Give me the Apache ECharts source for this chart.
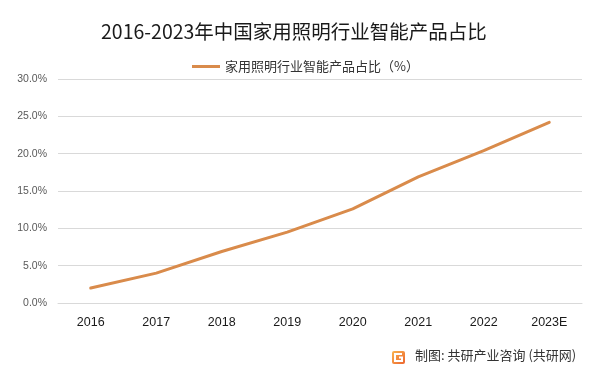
<!DOCTYPE html>
<html><head><meta charset="utf-8">
<script src="https://cdn.jsdelivr.net/npm/echarts@6/dist/echarts.min.js"></script>
<style>html,body{margin:0;padding:0;background:#fff}#c{width:601px;height:375px}</style>
</head><body><div id="c"></div>
<script>
var titleText = '2016-2023年中国家用照明行业智能产品占比';
var seriesName = '家用照明行业智能产品占比（%）';
var categories = ['2016','2017','2018','2019','2020','2021','2022','2023E'];
var values = [2.0, 4.0, 6.9, 9.5, 12.6, 16.9, 20.4, 24.2];
var sourceText = '制图: 共研产业咨询 (共研网)';

var chart = echarts.init(document.getElementById('c'), null, {renderer:'canvas'});
var cjk = '"Noto Sans CJK SC", "Noto Sans", sans-serif';
chart.setOption({
  backgroundColor:'#ffffff',
  animation:false,
  title:{text:titleText,left:101,top:22,padding:0,
    textStyle:{fontFamily:cjk,fontSize:19.5,fontWeight:'normal',color:'#1a1a1a'}},
  legend:{data:[seriesName],left:187,top:55,icon:'rect',itemWidth:28,itemHeight:3,itemGap:10,
    textStyle:{fontFamily:cjk,fontSize:13,color:'#333333'}},
  grid:{left:58,right:19,top:79,bottom:72,containLabel:false},
  xAxis:{type:'category',data:categories,boundaryGap:true,
    axisLine:{show:true,lineStyle:{color:'#d9d9d9',width:1}},
    axisTick:{show:false},
    axisLabel:{margin:13,fontSize:12.5,color:'#1a1a1a',fontFamily:'"Liberation Sans", Arial, sans-serif'}},
  yAxis:{type:'value',min:0,max:30,interval:5,
    axisLine:{show:false},axisTick:{show:false},
    splitLine:{lineStyle:{color:'#d9d9d9',width:1}},
    axisLabel:{margin:11,fontSize:10.5,color:'#595959',fontFamily:'"Liberation Sans", Arial, sans-serif',
      formatter:function(v){return v.toFixed(1)+'%';}}},
  series:[{name:seriesName,type:'line',data:values,smooth:false,showSymbol:false,symbol:'none',
    lineStyle:{color:'#D98B4B',width:3,cap:'round',join:'round'},itemStyle:{color:'#D98B4B'}}],
  graphic:[
    {type:'rect',shape:{x:392,y:351,width:13,height:13,r:2},
     style:{fill:new echarts.graphic.LinearGradient(0,0,1,1,[{offset:0,color:'#F9B44E'},{offset:1,color:'#EC6530'}])}},
    {type:'polyline',shape:{points:[[402,354],[395,354],[395,361],[402,361],[402,357.5],[399,357.5]]},
     style:{stroke:'#ffffff',lineWidth:2,fill:null}},
    {type:'text',left:415,top:349,style:{text:sourceText,fontFamily:cjk,fontSize:13,fill:'#333333'}}
  ]
});
</script></body></html>
